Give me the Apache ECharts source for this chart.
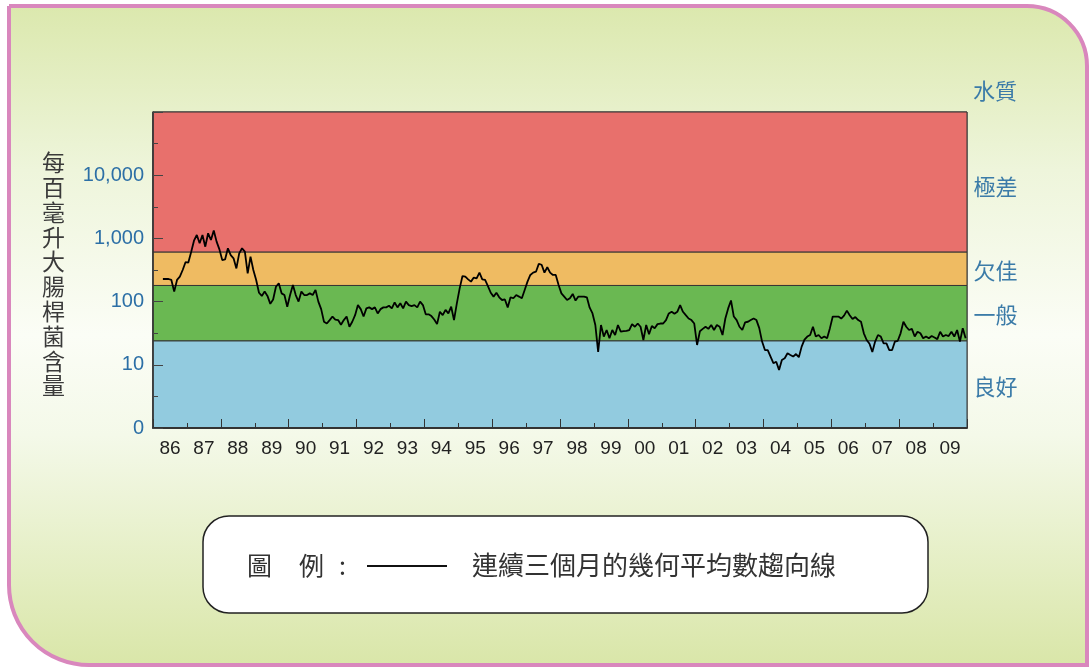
<!DOCTYPE html>
<html>
<head>
<meta charset="utf-8">
<script src="https://cdn.jsdelivr.net/npm/echarts@6.0.0/dist/echarts.min.js"></script>
<style>
  html, body { margin: 0; padding: 0; background: #fff; }
  #chart { width: 1089px; height: 668px; }
</style>
</head>
<body>
<div id="chart"></div>
<script>
// 年份標籤
const yearLabels = ['86','87','88','89','90','91','92','93','94','95','96','97',
  '98','99','00','01','02','03','04','05','06','07','08','09'];
const firstYear = 1986;
const firstMonth = 3; // 數據由 1986 年 4 月開始

// 水質級別
const bandNames = ['良好', '一般', '欠佳', '極差'];
const bandLimits = [1, 24, 180, 610, 100000];

// 連續三個月的幾何平均數（每百毫升大腸桿菌），逐月讀數
const geoMean = [
  228, 228, 228, 220, 144, 220, 248, 316, 420,                      // 1986
  415, 610, 920, 1132, 837, 1132, 740, 1205, 944, 1330, 890, 670,   // 1987
  455, 465, 697, 545, 484, 335, 580, 697, 617, 280, 514, 316,       // 1988
  220, 138, 123, 144, 123, 92, 108, 172, 195, 135, 127, 83,         // 1989
  127, 183, 127, 100, 144, 127, 127, 135, 127, 153, 100, 76,        // 1990
  48, 45, 51, 58, 52, 51, 43, 51, 58, 40, 48, 61,                   // 1991
  88, 76, 58, 78, 81, 76, 81, 65, 76, 81, 81, 86,                   // 1992
  78, 97, 81, 94, 78, 100, 88, 85, 88, 81, 100, 88,                 // 1993
  63, 63, 59, 52, 44, 69, 61, 74, 65, 83, 51, 94,                   // 1994
  162, 254, 248, 225, 207, 240, 233, 287, 225, 220, 176, 138,       // 1995
  120, 138, 117, 106, 108, 81, 117, 113, 127, 120, 113, 153,        // 1996
  207, 264, 287, 297, 395, 383, 287, 350, 287, 264, 264, 183,       // 1997
  135, 120, 106, 113, 132, 104, 120, 120, 120, 117, 80, 65,         // 1998
  42.6, 16, 42.6, 28, 35.5, 26.3, 35.5, 29.6, 42.6, 33.4, 34, 34.5, // 1999
  35.5, 44, 40, 45, 40, 24.7, 42.6, 30.5, 41, 38, 44, 45,           // 2000
  45, 51, 65, 69, 64, 69, 88, 69, 61, 54, 51, 45,                   // 2001
  20.6, 34, 37, 40, 37, 42.6, 35.5, 42.6, 40, 29.6, 54, 78,         // 2002
  104, 58, 51, 40, 35.5, 47, 48, 51, 54, 51, 38, 23.3,              // 2003
  17.1, 17.1, 13.5, 10.6, 11.2, 8.3, 11.9, 12.7, 15.2, 14.3, 13.5, 14.8, // 2004
  13.2, 19.4, 25, 28, 29.6, 40, 28, 29.6, 26.3, 28, 26.3, 38,       // 2005
  58, 58, 58, 54, 60, 72, 61, 53, 57, 51, 48, 31.5,                 // 2006
  24.7, 21.5, 16, 23.3, 29.6, 28, 21.9, 21.9, 17.1, 17.1, 23.3, 24, // 2007
  31.5, 48, 40, 35.5, 37, 28, 33.4, 31.5, 26.3, 28, 26.3, 28.5,     // 2008
  27, 25.5, 33.4, 28, 29.6, 28.5, 33.4, 28, 35.5, 23.3, 38, 26.3    // 2009
];

const bandColors = ['#92cbdf', '#6ab852', '#efbb62', '#e8706c'];
const labelBlue = '#3b7ba8';
const cjk = '"Noto Sans CJK TC", "Noto Sans CJK SC", sans-serif';
const latin = '"Liberation Sans", Arial, sans-serif';

const lineData = geoMean.map((v, i) => [firstYear + (firstMonth + i + 0.5) / 12, v]);

const bandAreas = bandNames.map((name, i) => [
  {
    name: name, yAxis: bandLimits[i], itemStyle: {color: bandColors[i]},
    label: {offset: [0, i === 3 ? 5 : 2]}
  },
  {yAxis: bandLimits[i + 1]}
]);

const chart = echarts.init(document.getElementById('chart'));

const option = {
  animation: false,
  grid: {left: 153, top: 112, width: 814, height: 316, show: true, borderColor: '#333', borderWidth: 1},
  graphic: [
    {
      type: 'rect', z: -100,
      shape: {x: 9, y: 6, width: 1078, height: 659, r: [0, 60, 0, 80]},
      style: {
        fill: new echarts.graphic.LinearGradient(0, 0, 0, 1, [
          {offset: 0, color: '#dbe8ad'},
          {offset: 0.25, color: '#eef5db'},
          {offset: 0.5, color: '#fbfdf6'},
          {offset: 0.65, color: '#f4f9e9'},
          {offset: 1, color: '#d9e6a8'}
        ]),
        stroke: '#d987bd', lineWidth: 4
      }
    },
    {
      type: 'text', left: 42, top: 150,
      style: {
        text: '每\n百\n毫\n升\n大\n腸\n桿\n菌\n含\n量',
        font: '23px ' + cjk, fill: '#3a3a3a', lineHeight: 24.8
      }
    },
    {
      type: 'text', left: 973, top: 80,
      style: {text: '水質', font: '22px ' + cjk, fill: labelBlue}
    },
    {
      type: 'rect',
      shape: {x: 203, y: 516, width: 725, height: 97, r: 26},
      style: {fill: '#fff', stroke: '#222', lineWidth: 1.5}
    },
    {
      type: 'text', x: 247, y: 565,
      style: {text: '圖', font: '25px ' + cjk, fill: '#333', verticalAlign: 'middle'}
    },
    {
      type: 'text', x: 299, y: 565,
      style: {text: '例', font: '25px ' + cjk, fill: '#333', verticalAlign: 'middle'}
    },
    {
      type: 'text', x: 339, y: 565,
      style: {text: ':', font: '25px ' + cjk, fill: '#333', verticalAlign: 'middle'}
    },
    {
      type: 'line',
      shape: {x1: 367, y1: 566, x2: 447, y2: 566},
      style: {stroke: '#111', lineWidth: 2}
    },
    {
      type: 'text', x: 472, y: 565,
      style: {text: '連續三個月的幾何平均數趨向線', font: '26px ' + cjk, fill: '#333', verticalAlign: 'middle'}
    }
  ],
  xAxis: [
    {
      type: 'value', min: 1986, max: 2010, interval: 2, z: 10,
      axisLine: {show: true, lineStyle: {color: '#333', width: 2}},
      axisTick: {show: true, inside: true, length: 9, lineStyle: {color: '#333'}},
      minorTick: {show: true, splitNumber: 2, length: 5, lineStyle: {color: '#333'}},
      axisLabel: {show: false},
      splitLine: {show: false}
    },
    {
      type: 'category', data: yearLabels, boundaryGap: true, position: 'bottom',
      axisLine: {show: false}, axisTick: {show: false}, splitLine: {show: false},
      axisLabel: {color: '#222', fontSize: 19, fontFamily: latin, margin: 11, interval: 0}
    }
  ],
  yAxis: [
    {
      type: 'log', logBase: 10, min: 1, max: 100000, z: 10,
      axisLine: {show: true, lineStyle: {color: '#333', width: 1.5}},
      axisTick: {show: true, inside: true, length: 10, lineStyle: {color: '#444'}},
      splitLine: {show: false},
      axisLabel: {
        color: '#2c6fa6', fontSize: 20, fontFamily: latin, margin: 9,
        formatter: v => (v <= 1 ? '0' : v >= 100000 ? '' : v.toLocaleString('en-US'))
      }
    },
    {
      // 半個數量級的小刻度
      type: 'value', min: 0, max: 10, interval: 1, position: 'left', offset: 0, z: 10,
      axisLine: {show: false},
      axisTick: {show: true, inside: true, length: 5, lineStyle: {color: '#444'}},
      axisLabel: {show: false},
      splitLine: {show: false}
    }
  ],
  series: [
    {
      type: 'line', xAxisIndex: 0, yAxisIndex: 0,
      data: lineData, showSymbol: false, smooth: false,
      lineStyle: {color: '#000', width: 1.8},
      z: 5,
      markArea: {
        silent: true,
        itemStyle: {borderColor: '#333', borderWidth: 1},
        label: {
          show: true, position: 'right', distance: 6,
          color: labelBlue, fontSize: 22, fontFamily: cjk
        },
        data: bandAreas
      }
    }
  ]
};

chart.setOption(option);
</script>
</body>
</html>
